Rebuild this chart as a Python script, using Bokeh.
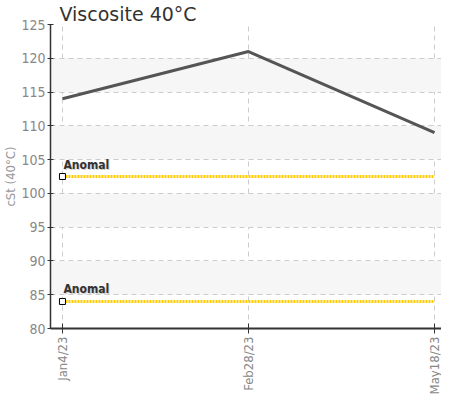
import math
from bokeh.plotting import figure
from bokeh.models import FixedTicker, ColumnDataSource
from bokeh.core.properties import value
from bokeh.embed import file_html
from bokeh.resources import INLINE

# data
dates = ["Jan4/23", "Feb28/23", "May18/23"]
viscosity = [114, 121, 109]
anomal_levels = [102.5, 84]
anomal_labels = ["Anomal", "Anomal"]
y_ticks = [80, 85, 90, 95, 100, 105, 110, 115, 120, 125]
title_text = "Viscosite 40°C"
y_label = "cSt (40°C)"

xs = list(range(len(dates)))
NARROW = "'DejaVu Sans Condensed', 'Liberation Sans Narrow', 'Liberation Sans', sans-serif"

p = figure(width=441, height=397, output_backend="svg", toolbar_location=None,
           x_range=(-0.0643, 2.0375), y_range=(80, 125),
           min_border_left=49, min_border_top=24, min_border_right=0, min_border_bottom=66)
p.outline_line_color = None
p.background_fill_color = "white"

p.title.text = title_text
p.title.text_font = "DejaVu Sans"
p.title.text_font_size = "19px"
p.title.text_font_style = "normal"
p.title.text_color = "#333333"
p.title.offset = 9
p.title.standoff = 0

# grids
p.ygrid.ticker = FixedTicker(ticks=y_ticks)
p.xgrid.ticker = FixedTicker(ticks=xs)
for g in (p.xgrid, p.ygrid):
    g.grid_line_color = "#cccccc"
    g.grid_line_dash = "5 4"
    g.grid_line_width = 1
p.ygrid.band_fill_color = "#f6f6f6"
p.ygrid.band_fill_alpha = 1

# axes
p.yaxis.ticker = FixedTicker(ticks=y_ticks)
p.xaxis.ticker = FixedTicker(ticks=xs)
p.xaxis.major_label_overrides = {i: d for i, d in enumerate(dates)}
p.xaxis.major_label_orientation = math.pi / 2
for ax in (p.xaxis, p.yaxis):
    ax.major_label_text_font = NARROW
    ax.major_label_text_font_size = "13px"
    ax.major_label_text_color = "#888888"
    ax.axis_line_color = "#333333"
    ax.major_tick_line_color = "#333333"
    ax.minor_tick_line_color = None
    ax.major_label_standoff = 3
p.yaxis.major_label_text_font_size = "14px"
p.yaxis.major_label_standoff = 2
p.yaxis.axis_line_width = 1.5
p.yaxis.major_tick_in = 3
p.yaxis.major_tick_out = 3
p.xaxis.axis_line_width = 2
p.xaxis.major_tick_in = 5
p.xaxis.major_tick_out = 5
p.yaxis.axis_label = y_label
p.yaxis.axis_label_text_font = NARROW
p.yaxis.axis_label_text_font_size = "13px"
p.yaxis.axis_label_text_font_style = "normal"
p.yaxis.axis_label_text_color = "#999999"
p.yaxis.axis_label_standoff = 0

# anomaly lines
n = len(anomal_levels)
asrc = ColumnDataSource(dict(x0=[xs[0]] * n, x1=[xs[-1]] * n, y=anomal_levels, t=anomal_labels))
p.segment(x0="x0", y0="y", x1="x1", y1="y", source=asrc, line_color="#FFCC00",
          line_width=3, line_dash="2 1")
p.scatter(x="x0", y="y", source=asrc, marker="square", size=6, fill_color="white",
          line_color="black", line_width=1)
p.text(x="x0", y="y", text="t", source=asrc, text_font=value(NARROW),
       text_font_size="12px", text_font_style="bold", text_color="#bbbbbb",
       x_offset=2, y_offset=-4, text_baseline="bottom", text_alpha=0.7)
p.text(x="x0", y="y", text="t", source=asrc, text_font=value(NARROW),
       text_font_size="12px", text_font_style="bold", text_color="#333333",
       x_offset=1, y_offset=-5, text_baseline="bottom")

# main line
p.line(xs, viscosity, line_color="#555555", line_width=3)

open("out.html", "w").write(file_html(p, INLINE))
